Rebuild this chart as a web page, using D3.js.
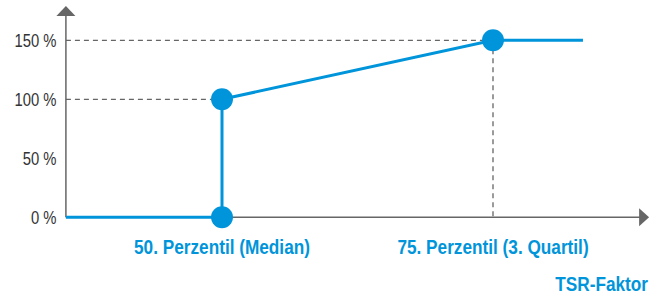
<!DOCTYPE html>
<html>
<head>
<meta charset="utf-8">
<script src="https://cdn.jsdelivr.net/npm/d3@7/dist/d3.min.js"></script>
<style>
  body { margin: 0; background: #fff; }
  svg { display: block; }
  .tick text { font-family: "Liberation Sans", Arial, sans-serif; font-size: 19px; fill: #333; }
  .lbl { font-family: "Liberation Sans", Arial, sans-serif; font-weight: bold; font-size: 21px; fill: #0095da; }
</style>
</head>
<body>
<svg id="chart"></svg>
<script>
// TSR-Faktor curve, x in percentile, y in %
let yTicks      = [0, 50, 100, 150],
    xCats       = [50, 75],
    xLabels     = ["50. Perzentil (Median)", "75. Perzentil (3. Quartil)"],
    curveX      = [35.6, 50, 50, 75, 83.3],
    curveY      = [0, 0, 100, 150, 150],
    dotX        = [50, 50, 75],
    dotY        = [0, 100, 150],
    axisTitle   = "TSR-Faktor"

let width   = 665,
    height  = 295,
    blue    = "#0095da",
    grey    = "#666",
    squeeze = 0.82,   // condensed look
    tickSq  = 0.78,
    x0      = 35.6,   // x-axis origin
    xEnd    = 89.4,   // arrow tip
    yTop    = 179,

    xScale  = d3.scaleLinear().domain([50, 75]).range([222, 493]),
    yScale  = d3.scaleLinear().domain([0, 150]).range([217.3, 40.3]),

    svg     = d3.select('#chart')
                .attr('width', width)
                .attr('height', height)

// dashed guides
let guides = [
    [[x0, 150], [75, 150]],
    [[x0, 100], [50, 100]],
    [[75, 150], [75, 0]]
]
svg.selectAll('.guide')
    .data(guides)
    .enter()
    .append('line')
    .attr('x1', d=>xScale(d[0][0])).attr('y1', d=>yScale(d[0][1]))
    .attr('x2', d=>xScale(d[1][0])).attr('y2', d=>yScale(d[1][1]))
    .attr('stroke', grey)
    .attr('stroke-width', 1.3)
    .attr('stroke-dasharray', '5,4')

// axes
svg.append('g')
    .attr('transform', `translate(${xScale(x0)},0)`)
    .call(d3.axisLeft(yScale)
        .tickValues(yTicks)
        .tickSize(0)
        .tickPadding(9.5)
        .tickFormat(d=>d + " %"))
    .call(g=>g.select('.domain').remove())
    .call(g=>g.selectAll('text')
        .attr('x', -9.5/tickSq)
        .attr('transform', `scale(${tickSq},1)`))

svg.append('line')
    .attr('x1', xScale(x0)).attr('y1', yScale(0))
    .attr('x2', xScale(xEnd) - 8).attr('y2', yScale(0))
    .attr('stroke', grey).attr('stroke-width', 1.5)
svg.append('line')
    .attr('x1', xScale(x0)).attr('y1', yScale(0))
    .attr('x2', xScale(x0)).attr('y2', yScale(yTop) + 8)
    .attr('stroke', grey).attr('stroke-width', 1.5)

let ax = xScale(xEnd), ay = yScale(0)
svg.append('path')
    .attr('d', `M${ax},${ay} L${ax-10},${ay-9} L${ax-10},${ay+9} Z`)
    .attr('fill', grey)
let tx = xScale(x0), ty = yScale(yTop)
svg.append('path')
    .attr('d', `M${tx},${ty} L${tx-9.5},${ty+10} L${tx+9.5},${ty+10} Z`)
    .attr('fill', grey)

// curve
let line = d3.line().x(d=>xScale(d[0])).y(d=>yScale(d[1]))
svg.append('path')
    .datum(d3.zip(curveX, curveY))
    .attr('d', line)
    .attr('fill', 'none')
    .attr('stroke', blue)
    .attr('stroke-width', 3)

svg.selectAll('.dot')
    .data(d3.zip(dotX, dotY))
    .enter()
    .append('circle')
    .attr('cx', d=>xScale(d[0]))
    .attr('cy', d=>yScale(d[1]))
    .attr('r', 11)
    .attr('fill', blue)

// labels
svg.selectAll('.xlbl')
    .data(xCats)
    .enter()
    .append('text')
    .attr('class', 'lbl')
    .attr('transform', d=>`translate(${xScale(d)},254) scale(${squeeze},1)`)
    .attr('text-anchor', 'middle')
    .text((d,i)=>xLabels[i])

svg.append('text')
    .attr('class', 'lbl')
    .attr('transform', `translate(648,291) scale(${squeeze},1)`)
    .attr('text-anchor', 'end')
    .text(axisTitle)
</script>
</body>
</html>
